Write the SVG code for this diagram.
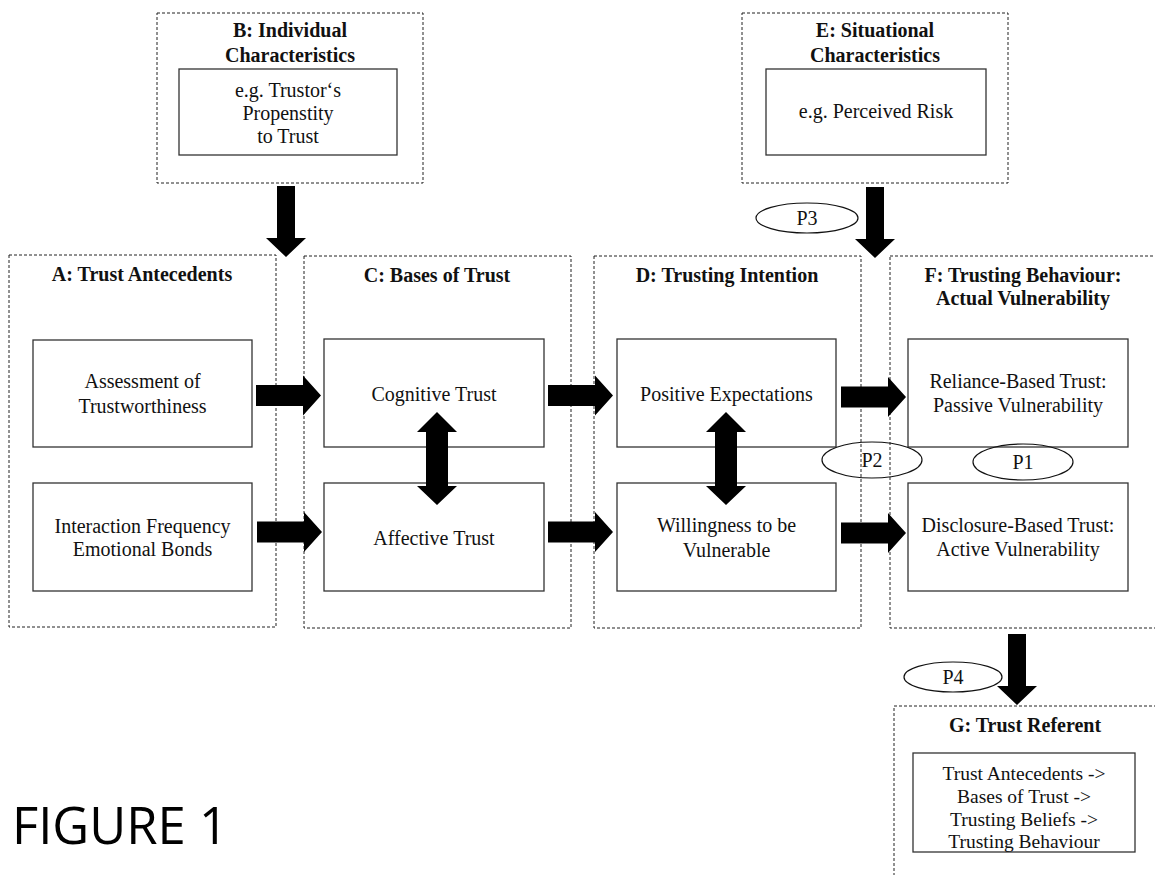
<svg xmlns="http://www.w3.org/2000/svg" width="1155" height="875" viewBox="0 0 1155 875">
<style>
.dash{fill:none;stroke:#222;stroke-width:1;stroke-dasharray:3,2}
.box{fill:#fff;stroke:#333;stroke-width:1.3}
.ell{fill:none;stroke:#111;stroke-width:1.2}
.t{font-family:"Liberation Serif","Times New Roman",serif;font-size:20px;fill:#111;text-anchor:middle}
.b{font-weight:bold}
.fig{font-family:"Open Sans","Noto Sans",sans-serif;font-size:51px;fill:#000}
.arr{fill:#000}
</style>
<defs>
<path id="ar" d="M0,-10.5 H47 V-20 L65,0 L47,20 V10.5 H0 Z"/>
<path id="ad" d="M-9,0 V52 H-20 L0,71 L20,52 H9 V0 Z"/>
<path id="av" d="M0,0 L20,20 H11 V74 H20 L0,93 L-20,74 H-11 V20 H-20 Z"/>
</defs>
<rect width="1155" height="875" fill="#fff"/>

<g id="nodeB">
<rect class="dash" x="157" y="13" width="266" height="170"/>
<text class="t b" x="290" y="37">B: Individual</text>
<text class="t b" x="290" y="62">Characteristics</text>
<rect class="box" x="179" y="69" width="218" height="86"/>
<text class="t" x="288" y="97">e.g. Trustor‘s</text>
<text class="t" x="288" y="120">Propenstity</text>
<text class="t" x="288" y="143">to Trust</text>
</g>

<g id="nodeE">
<rect class="dash" x="742" y="13" width="266" height="170"/>
<text class="t b" x="875" y="37">E: Situational</text>
<text class="t b" x="875" y="62">Characteristics</text>
<rect class="box" x="766" y="69" width="220" height="86"/>
<text class="t" x="876" y="118">e.g. Perceived Risk</text>
</g>

<g id="nodeA">
<rect class="dash" x="9" y="255" width="267" height="372"/>
<text class="t b" x="142" y="281">A: Trust Antecedents</text>
<rect class="box" x="33" y="340" width="219" height="107"/>
<text class="t" x="142.5" y="388">Assessment of</text>
<text class="t" x="142.5" y="413">Trustworthiness</text>
<rect class="box" x="33" y="483" width="219" height="108"/>
<text class="t" x="142.5" y="533">Interaction Frequency</text>
<text class="t" x="142.5" y="556">Emotional Bonds</text>
</g>

<g id="nodeC">
<rect class="dash" x="304" y="256" width="267" height="372"/>
<text class="t b" x="437" y="282">C: Bases of Trust</text>
<rect class="box" x="324" y="339" width="220" height="108"/>
<text class="t" x="434" y="401">Cognitive Trust</text>
<rect class="box" x="324" y="483" width="220" height="108"/>
<text class="t" x="434" y="545">Affective Trust</text>
</g>

<g id="nodeD">
<rect class="dash" x="594" y="256" width="267" height="372"/>
<text class="t b" x="727" y="282">D: Trusting Intention</text>
<rect class="box" x="617" y="339" width="219" height="108"/>
<text class="t" x="726.5" y="401">Positive Expectations</text>
<rect class="box" x="617" y="483" width="219" height="108"/>
<text class="t" x="726.5" y="532">Willingness to be</text>
<text class="t" x="726.5" y="557">Vulnerable</text>
</g>

<g id="nodeF">
<rect class="dash" x="890" y="256" width="275" height="372"/>
<text class="t b" x="1023" y="282">F: Trusting Behaviour:</text>
<text class="t b" x="1023" y="305">Actual Vulnerability</text>
<rect class="box" x="908" y="339" width="220" height="108"/>
<text class="t" x="1018" y="388">Reliance-Based Trust:</text>
<text class="t" x="1018" y="412">Passive Vulnerability</text>
<rect class="box" x="908" y="483" width="220" height="108"/>
<text class="t" x="1018" y="532">Disclosure-Based Trust:</text>
<text class="t" x="1018" y="556">Active Vulnerability</text>
</g>

<g id="nodeG">
<rect class="dash" x="894" y="706" width="275" height="190"/>
<text class="t b" x="1025" y="732">G: Trust Referent</text>
<rect class="box" x="913" y="753" width="222" height="99"/>
<text class="t" x="1024" y="780" style="font-size:19.5px">Trust Antecedents -&gt;</text>
<text class="t" x="1024" y="803" style="font-size:19.5px">Bases of Trust -&gt;</text>
<text class="t" x="1024" y="826" style="font-size:19.5px">Trusting Beliefs -&gt;</text>
<text class="t" x="1024" y="848" style="font-size:19.5px">Trusting Behaviour</text>
</g>

<g id="connectors">
<use href="#ar" class="arr" transform="translate(256,395.5)"/>
<use href="#ar" class="arr" transform="translate(257,532)"/>
<use href="#ar" class="arr" transform="translate(548,395.5)"/>
<use href="#ar" class="arr" transform="translate(548,532)"/>
<use href="#ar" class="arr" transform="translate(841,397)"/>
<use href="#ar" class="arr" transform="translate(841,533)"/>
<use href="#ad" class="arr" transform="translate(286,186)"/>
<use href="#ad" class="arr" transform="translate(875,187)"/>
<use href="#ad" class="arr" transform="translate(1017,634)"/>
<use href="#av" class="arr" transform="translate(437,412)"/>
<use href="#av" class="arr" transform="translate(726,412)"/>
</g>

<g id="labelP3">
<ellipse class="ell" cx="807" cy="218" rx="51" ry="15"/>
<text class="t" x="807" y="225">P3</text>
</g>
<g id="labelP2">
<ellipse class="ell" cx="872" cy="460" rx="50" ry="18"/>
<text class="t" x="872" y="467">P2</text>
</g>
<g id="labelP1">
<ellipse class="ell" cx="1023" cy="462" rx="50" ry="18"/>
<text class="t" x="1023" y="469">P1</text>
</g>
<g id="labelP4">
<ellipse class="ell" cx="953" cy="677" rx="49" ry="15"/>
<text class="t" x="953" y="684">P4</text>
</g>

<text class="fig" x="12" y="844" textLength="216" lengthAdjust="spacingAndGlyphs">FIGURE 1</text>
</svg>
